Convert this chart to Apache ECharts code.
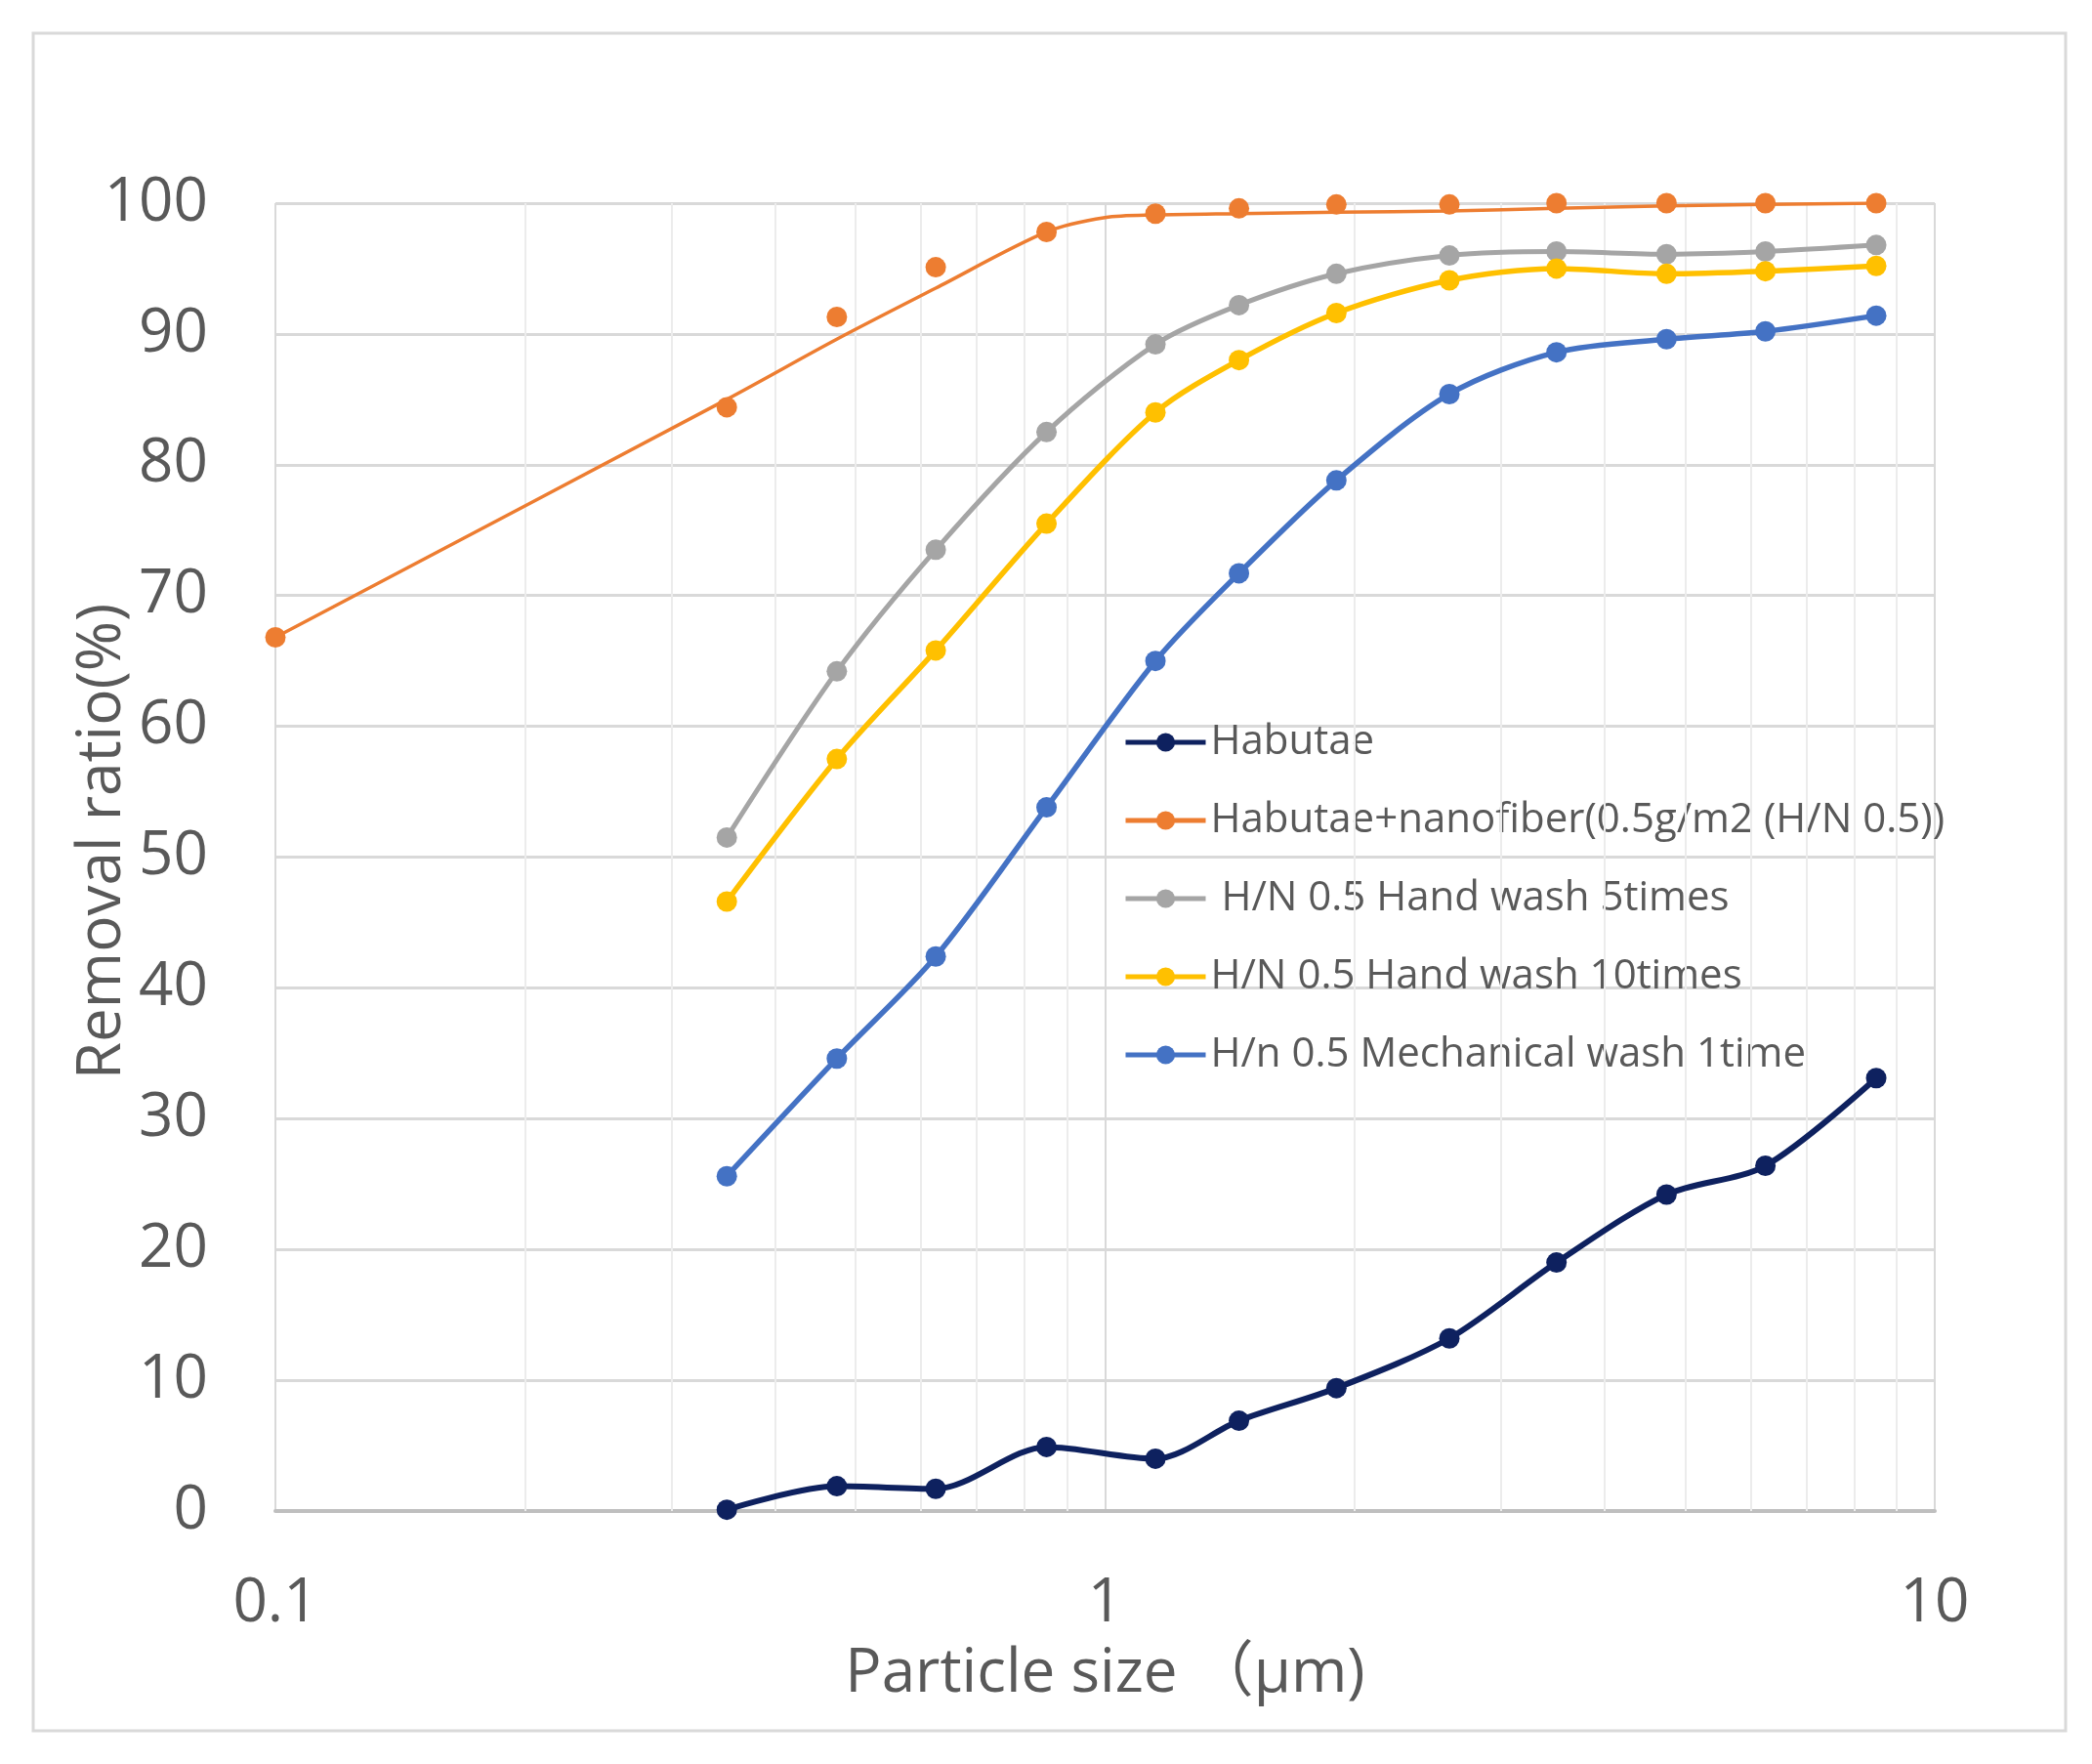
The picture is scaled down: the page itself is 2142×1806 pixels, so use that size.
<!DOCTYPE html>
<html>
<head>
<meta charset="utf-8">
<style>
html,body{margin:0;padding:0;background:#fff;}
#chart{width:2142px;height:1806px;}
</style>
<script src="https://cdn.jsdelivr.net/npm/echarts@6/dist/echarts.min.js"></script>
</head>
<body>
<div id="chart"></div>
<script>
// ---- data ----
const particleSize = [0.35, 0.475, 0.625, 0.85, 1.15, 1.45, 1.9, 2.6, 3.5, 4.75, 6.25, 8.5];
const habutae      = [0.1, 1.9, 1.7, 4.9, 4.0, 6.9, 9.4, 13.2, 19.0, 24.2, 26.4, 33.1];
const handWash5    = [51.5, 64.2, 73.5, 82.5, 89.2, 92.2, 94.6, 96.0, 96.3, 96.1, 96.3, 96.8];
const handWash10   = [46.6, 57.5, 65.8, 75.5, 84.0, 88.0, 91.6, 94.1, 95.0, 94.6, 94.8, 95.2];
const mechWash1    = [25.6, 34.6, 42.4, 53.8, 65.0, 71.7, 78.8, 85.4, 88.6, 89.6, 90.2, 91.4];
// nanofiber markers (includes the 0.1 um point)
const nanoSize     = [0.1, 0.35, 0.475, 0.625, 0.85, 1.15, 1.45, 1.9, 2.6, 3.5, 4.75, 6.25, 8.5];
const nanoMarkers  = [66.8, 84.4, 91.3, 95.1, 97.8, 99.2, 99.6, 99.9, 99.9, 100, 100, 100, 100];
// nanofiber drawn curve (as traced in the picture)
const nanoLineSize = [0.1, 0.35, 0.475, 0.625, 0.85, 1.0, 1.15, 1.45, 1.9, 2.6, 3.5, 4.75, 6.25, 8.5];
const nanoLine     = [66.8, 85.0, 89.6, 93.5, 97.8, 98.9, 99.1, 99.2, 99.3, 99.4, 99.6, 99.8, 99.9, 100];
const minorGrid    = [0.2, 0.3, 0.4, 0.5, 0.6, 0.7, 0.8, 0.9, 2, 3, 4, 5, 6, 7, 8, 9];
const seriesNames  = ['Habutae', 'Habutae+nanofiber(0.5g/m2 (H/N 0.5))', ' H/N 0.5 Hand wash 5times', 'H/N 0.5 Hand wash 10times', 'H/n 0.5 Mechanical wash 1time'];
const colors       = ['#0E215F', '#ED7D31', '#A5A5A5', '#FFC000', '#4472C4'];

const pair = (xs, ys) => xs.map((x, i) => [x, ys[i]]);
const FONT = '"Open Sans","Noto Sans CJK JP",sans-serif';
const TXT = '#595959';

const chart = echarts.init(document.getElementById('chart'), null, {renderer: 'canvas'});

function lineSeries(name, color, data, width) {
  return {
    name: name, type: 'line', data: data, smooth: 0.3,
    symbol: 'circle', symbolSize: 21, z: 5,
    lineStyle: {color: color, width: width},
    itemStyle: {color: color, opacity: 1},
    emphasis: {disabled: true}
  };
}

const option = {
  animation: false,
  backgroundColor: '#fff',
  graphic: [{
    type: 'rect', z: -10, silent: true,
    shape: {x: 34, y: 34, width: 2081, height: 1738},
    style: {fill: 'none', stroke: '#d9d9d9', lineWidth: 3}
  }],
  grid: {left: 282, right: 161, top: 208, bottom: 259, containLabel: false},
  legend: {
    orient: 'vertical', left: 1145, top: 732, align: 'left',
    data: seriesNames,
    itemWidth: 82, itemHeight: 24, itemGap: 34,
    lineStyle: {width: 5},
    textStyle: {fontFamily: FONT, fontSize: 42, color: TXT, lineHeight: 46}
  },
  xAxis: {
    type: 'log', logBase: 10, min: 0.1, max: 10,
    name: 'Particle size （μm)', nameLocation: 'middle', nameGap: 136,
    nameMoveOverlap: false,
    nameTextStyle: {fontFamily: FONT, fontSize: 62, color: TXT},
    axisLine: {show: true, lineStyle: {color: '#bfbfbf', width: 4}},
    axisTick: {show: false},
    axisLabel: {fontFamily: FONT, fontSize: 62, color: TXT, margin: 64,
      formatter: v => String(v)},
    splitLine: {show: true, lineStyle: {color: '#d9d9d9', width: 2}},
    minorSplitLine: {show: false}
  },
  yAxis: {
    type: 'value', min: 0, max: 100, interval: 10,
    name: 'Removal ratio(%)', nameLocation: 'middle', nameGap: 146,
    nameMoveOverlap: false,
    nameTextStyle: {fontFamily: FONT, fontSize: 62, color: TXT, padding: [0, 0, 0, 32]},
    axisLine: {show: false}, axisTick: {show: false},
    axisLabel: {fontFamily: FONT, fontSize: 62, color: TXT, margin: 69},
    splitLine: {show: true, lineStyle: {color: '#d9d9d9', width: 3}}
  },
  series: [
    {
      name: 'minorGrid', type: 'line', data: [], z: 1, silent: true,
      markLine: {
        silent: true, symbol: 'none', animation: false,
        label: {show: false},
        lineStyle: {color: '#ececec', width: 2, type: 'solid'},
        emphasis: {disabled: true},
        data: minorGrid.map(v => ({xAxis: v}))
      }
    },
    lineSeries(seriesNames[0], colors[0], pair(particleSize, habutae), 6),
    lineSeries(seriesNames[1], colors[1],
      pair(nanoLineSize, nanoLine).map(p => ({value: p, symbol: 'none'})), 3.5),
    {
      name: 'nanoMarkers', type: 'scatter', data: pair(nanoSize, nanoMarkers),
      symbol: 'circle', symbolSize: 21, z: 6,
      itemStyle: {color: colors[1], opacity: 1}, emphasis: {disabled: true}
    },
    lineSeries(seriesNames[2], colors[2], pair(particleSize, handWash5), 5),
    lineSeries(seriesNames[3], colors[3], pair(particleSize, handWash10), 5.5),
    lineSeries(seriesNames[4], colors[4], pair(particleSize, mechWash1), 5.5)
  ]
};
chart.setOption(option);
</script>
</body>
</html>
